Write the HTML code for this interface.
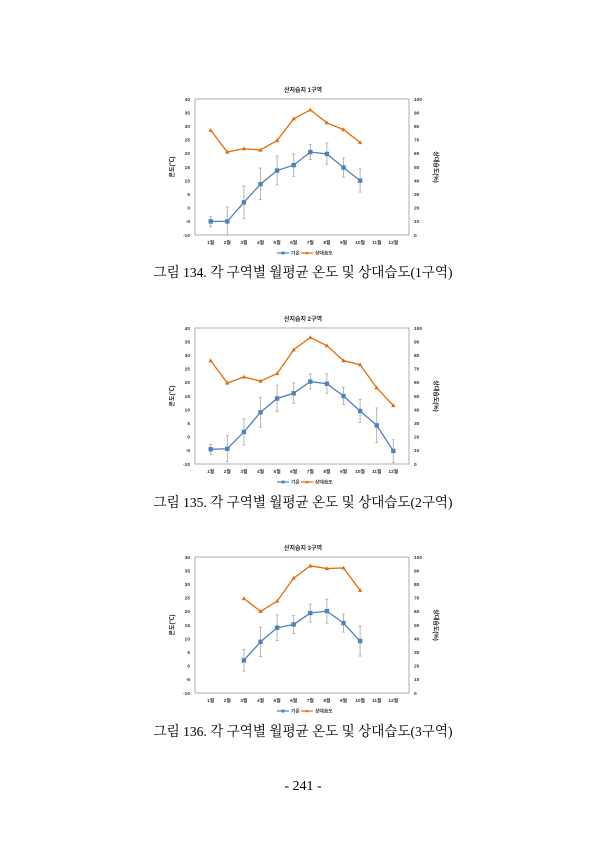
<!DOCTYPE html>
<html><head><meta charset="utf-8">
<style>
html,body{margin:0;padding:0;background:#fff;}
body{width:606px;height:840px;overflow:hidden;position:relative;}
svg text{font-family:"Liberation Sans","Noto Sans CJK KR",sans-serif;}
.cap{font-family:"Liberation Serif","Noto Serif CJK SC",serif;font-size:14px;fill:#000;}
</style></head>
<body>
<svg id="page" width="606" height="840" viewBox="0 0 606 840" xmlns="http://www.w3.org/2000/svg">
<text class="cap" x="303" y="277" text-anchor="middle" textLength="299" lengthAdjust="spacingAndGlyphs">그림 134. 각 구역별 월평균 온도 및 상대습도(1구역)</text>
<text class="cap" x="303" y="507" text-anchor="middle" textLength="299" lengthAdjust="spacingAndGlyphs">그림 135. 각 구역별 월평균 온도 및 상대습도(2구역)</text>
<text class="cap" x="303" y="736" text-anchor="middle" textLength="299" lengthAdjust="spacingAndGlyphs">그림 136. 각 구역별 월평균 온도 및 상대습도(3구역)</text>
<text class="cap" x="303" y="790" text-anchor="middle">- 241 -</text>
</svg>
<script>
const months = ["1월","2월","3월","4월","5월","6월","7월","8월","9월","10월","11월","12월"];
const leftTicks = [-10,-5,0,5,10,15,20,25,30,35,40];
const rightTicks = [0,10,20,30,40,50,60,70,80,90,100];
const chartTitles = ["산지습지 1구역","산지습지 2구역","산지습지 3구역"];
const temp1 = [-5,-5,2,8.7,13.7,15.7,20.5,19.8,14.8,10,null,null];
const errHi1 = [-3.2,0.3,8,14.6,19,19.8,23.2,23.8,18.3,14.3,null,null];
const errLo1 = [-7,-10,-4,3,8.4,11.6,17.8,16,11.3,5.8,null,null];
const hum1 = [77,61,63.5,62.5,69.5,85.5,92,82.5,77.5,68,null,null];
const temp2 = [-4.6,-4.4,1.8,9,14.1,16,20.3,19.5,15,9.5,4.2,-5.2];
const errHi2 = [-2.8,0.4,6.6,14.4,19,19.8,23.1,23.1,18.2,13.8,10.6,-1.1];
const errLo2 = [-6.4,-9.2,-3,3.6,9.3,12.3,17.6,16,11.9,5.3,-2.1,-9.4];
const hum2 = [76,59.5,64,61,66.5,84,93,87,76,73,56,43];
const temp3 = [null,null,2,8.8,14,15.2,19.4,20.1,15.7,9.1,null,null];
const errHi3 = [null,null,6,14.2,18.7,18.5,22.7,24.5,19,14.6,null,null];
const errLo3 = [null,null,-2,3.4,9.3,11.9,16.1,15.7,12.4,3.6,null,null];
const hum3 = [null,null,69.5,60,67.5,84.5,93.5,91.5,92,75.5,null,null];

const temps=[temp1,temp2,temp3], his=[errHi1,errHi2,errHi3], los=[errLo1,errLo2,errLo3], hums=[hum1,hum2,hum3];
const tops=[99,328,557];
const NS="http://www.w3.org/2000/svg";
const page=document.getElementById('page');
function mk(tag,attrs,parent,txt){const e=document.createElementNS(NS,tag);for(const k in attrs)e.setAttribute(k,attrs[k]);if(txt!==undefined)e.textContent=txt;parent.appendChild(e);return e;}
const BLUE="#4f81bd", ORANGE="#e46c0a";
for(let c=0;c<3;c++){
  const top=tops[c], bot=top+136, L=195, R=409;
  const yL=v=>bot-(v+10)/50*(bot-top);
  const yR=v=>bot-v/100*(bot-top);
  const x=i=>210.7+i*16.6;
  const g=mk('g',{},page);
  
  
  const t=mk('text',{x:303,y:top-7,'text-anchor':'middle','font-size':6,'font-weight':'bold',fill:'#222'},g,chartTitles[c]);
  
  
  const box=mk('rect',{x:L,y:top,width:R-L,height:bot-top,fill:'none',stroke:'#999','stroke-width':0.8},g);
  
  
  leftTicks.forEach(v=>{const e=mk('text',{x:L-5,y:yL(v)+1.8,'text-anchor':'end','font-size':4.8,'font-weight':'bold',fill:'#333'},g,v);
    
    });
  rightTicks.forEach(v=>{const e=mk('text',{x:R+5,y:yR(v)+1.8,'font-size':4.8,'font-weight':'bold',fill:'#333'},g,v);
    
    });
  months.forEach((m,i)=>{const e=mk('text',{x:x(i),y:bot+9,'text-anchor':'middle','font-size':4.8,'font-weight':'bold',fill:'#333'},g,m);
    
    });
  const ly=mk('text',{transform:`translate(${L-21},${(top+bot)/2}) rotate(-90)`,'text-anchor':'middle','font-size':6,'font-weight':'bold',fill:'#222'},g,'온도(℃)');
  
  
  const ry=mk('text',{transform:`translate(${R+25},${(top+bot)/2}) rotate(90)`,'text-anchor':'middle','font-size':6,'font-weight':'bold',fill:'#222'},g,'상대습도(%)');
  
  
  const T=temps[c],H=his[c],Lo=los[c],Hu=hums[c];
  T.forEach((v,i)=>{if(v===null)return;
    const e=mk('line',{x1:x(i),x2:x(i),y1:yL(H[i]),y2:yL(Lo[i]),stroke:'#a6a6a6','stroke-width':0.8},g);
    
    
    mk('line',{x1:x(i)-1.5,x2:x(i)+1.5,y1:yL(H[i]),y2:yL(H[i]),stroke:'#a6a6a6','stroke-width':0.8},g);
    mk('line',{x1:x(i)-1.5,x2:x(i)+1.5,y1:yL(Lo[i]),y2:yL(Lo[i]),stroke:'#a6a6a6','stroke-width':0.8},g);});
  const tp=T.map((v,i)=>v===null?null:`${x(i)},${yL(v)}`).filter(s=>s).join(' ');
  const tl=mk('polyline',{points:tp,fill:'none',stroke:BLUE,'stroke-width':1.3},g);
  
  
  T.forEach((v,i)=>{if(v===null)return;const e=mk('rect',{x:x(i)-2.2,y:yL(v)-2.2,width:4.4,height:4.4,fill:BLUE},g);
    
    });
  const hp=Hu.map((v,i)=>v===null?null:`${x(i)},${yR(v)}`).filter(s=>s).join(' ');
  const hl=mk('polyline',{points:hp,fill:'none',stroke:ORANGE,'stroke-width':1.3},g);
  
  
  Hu.forEach((v,i)=>{if(v===null)return;const X=x(i),Y=yR(v);
    const e=mk('polygon',{points:`${X},${Y-2.3} ${X+2.2},${Y+1.6} ${X-2.2},${Y+1.6}`,fill:ORANGE},g);
    
    });
  const lg=mk('g',{},g);
  
  
  const ly2=bot+18;
  mk('line',{x1:277,x2:289,y1:ly2,y2:ly2,stroke:BLUE,'stroke-width':1.2},lg);
  mk('rect',{x:281.5,y:ly2-1.5,width:3,height:3,fill:BLUE},lg);
  mk('text',{x:291,y:ly2+1.7,'font-size':4.8,'font-weight':'bold',fill:'#333'},lg,'기온');
  mk('line',{x1:301,x2:313,y1:ly2,y2:ly2,stroke:ORANGE,'stroke-width':1.2},lg);
  mk('polygon',{points:`307,${ly2-1.8} 308.8,${ly2+1.3} 305.2,${ly2+1.3}`,fill:ORANGE},lg);
  mk('text',{x:315,y:ly2+1.7,'font-size':4.8,'font-weight':'bold',fill:'#333'},lg,'상대습도');
}
</script>
</body></html>
